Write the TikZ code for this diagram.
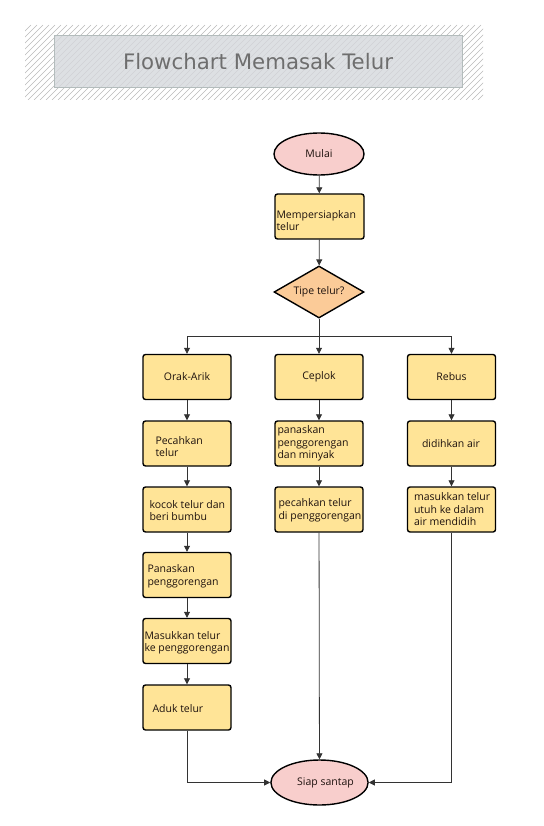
\documentclass[tikz,border=0pt]{standalone}
\usepackage{fontspec}
\setmainfont{Open Sans}
\newfontfamily\titlefont{DejaVu Sans}
\usetikzlibrary{arrows.meta,shapes.geometric}
\definecolor{boxfill}{HTML}{FFE497}
\definecolor{ellfill}{HTML}{F8CECC}
\definecolor{diafill}{HTML}{FBCB98}
\definecolor{titlefill}{HTML}{D5D8DC}
\definecolor{titleline}{HTML}{B3BCBC}
\definecolor{titletext}{HTML}{6E6E6E}
\definecolor{txtcol}{HTML}{1E120E}
\definecolor{lncol}{HTML}{333333}
\tikzset{
  box/.style={rectangle, rounded corners=2.5pt, draw=black, line width=1.4pt, fill=boxfill,
    minimum width=88pt, minimum height=45pt, inner sep=0pt, font=\fontsize{10.5}{12.5}\selectfont, text=txtcol},
  ell/.style={ellipse, draw=black, line width=1.4pt, fill=ellfill, minimum width=90pt,
    minimum height=42pt, inner sep=0pt, font=\fontsize{10.5}{12.5}\selectfont, text=txtcol},
  dia/.style={diamond, draw=black, line width=1.4pt, fill=diafill, minimum width=90pt,
    minimum height=52pt, inner sep=0pt, shape aspect=1.7, font=\fontsize{10.5}{12.5}\selectfont, text=txtcol},
  txt/.style={align=left, inner sep=0pt, font=\fontsize{10.5}{12.5}\selectfont, text=txtcol},
  ln/.style={draw=lncol, line width=0.8pt},
  arr/.style={ln, -{Triangle[length=6pt,width=6pt]}},
  hatch/.style={draw=gray!55, line width=0.5pt},
  titlebox/.style={rectangle, draw=titleline, line width=1pt, fill=titlefill, fill opacity=0.8,
    text opacity=1, minimum width=408pt, minimum height=52pt, text=titletext,
    font=\titlefont\fontsize{21.3}{24}\selectfont}
}
\begin{document}
\begin{tikzpicture}[x=1pt,y=-1pt]
\useasboundingbox (0,0) rectangle (543,826);
% title
\begin{scope}
  \clip (25,25) rectangle (483,100);
  \foreach \i in {0,...,95} {
    \draw[hatch] (-80+6*\i,100) -- (-5+6*\i,25);
  }
\end{scope}
\node[titlebox] (title) at (258,62) {Flowchart Memasak Telur};

% main column
\node[ell] (start) at (319,154) {Mulai};
\node[box, minimum width=89pt] (prep) at (319.5,216.5) {};
\node[txt, anchor=west] (preptxt) at ([xshift=2pt,yshift=-4pt]prep.west) {Mempersiapkan\\telur};
\node[dia] (type) at (319,292) {Tipe telur?};

\coordinate (split) at (319,336);
\coordinate (sl) at (187,336);
\coordinate (sr) at (451.5,336);

% left column
\node[box] (oa) at (187,377) {Orak-Arik};
\node[box] (oa1) at (187,443.5) {};
\node[txt, anchor=west] (oa1t) at ([xshift=13pt,yshift=-3pt]oa1.west) {Pecahkan\\telur};
\node[box] (oa2) at (187,509.5) {};
\node[txt, anchor=west] (oa2t) at ([xshift=7pt,yshift=-1pt]oa2.west) {kocok telur dan\\beri bumbu};
\node[box] (oa3) at (187,575) {};
\node[txt, anchor=west] (oa3t) at ([xshift=5pt,yshift=-1.5pt]oa3.west) {Panaskan\\penggorengan};
\node[box] (oa4) at (187,641) {};
\node[txt, anchor=west] (oa4t) at ([xshift=2pt,yshift=-2pt]oa4.west) {Masukkan telur\\ke penggorengan};
\node[box] (oa5) at (187,707.5) {};
\node[txt, anchor=west] (oa5t) at ([xshift=10pt,yshift=-1.5pt]oa5.west) {Aduk telur};

% middle column
\node[box] (cp) at (319,377) {Ceplok};
\node[box] (cp1) at (319,443.5) {};
\node[txt, anchor=west] (cp1t) at ([xshift=3pt,yshift=0pt]cp1.west) {panaskan\\penggorengan\\dan minyak};
\node[box] (cp2) at (319,509.5) {};
\node[txt, anchor=west] (cp2t) at ([xshift=4pt,yshift=-1pt]cp2.west) {pecahkan telur\\di penggorengan};

% right column
\node[box] (rb) at (451.5,377) {Rebus};
\node[box] (rb1) at (451.5,443.5) {};
\node[txt, anchor=west] (rb1t) at ([xshift=15pt,yshift=0pt]rb1.west) {didihkan air};
\node[box] (rb2) at (451.5,509.5) {};
\node[txt, anchor=west] (rb2t) at ([xshift=7pt,yshift=0pt]rb2.west) {masukkan telur\\utuh ke dalam\\air mendidih};

% end
\node[ell, minimum width=88pt, minimum height=45pt] (end) at (319.5,782.5) {\hspace*{12pt}Siap santap};

% connectors
\draw[arr] (start) -- (prep);
\draw[arr] (prep) -- (type);
\draw[ln] (type.south) -- (split);
\draw[ln] (sl) -- (sr);
\draw[arr] (sl) -- (oa);
\draw[arr] (split) -- (cp);
\draw[arr] (sr) -- (rb);
\draw[arr] (oa) -- (oa1);
\draw[arr] (oa1) -- (oa2);
\draw[arr] (oa2) -- (oa3);
\draw[arr] (oa3) -- (oa4);
\draw[arr] (oa4) -- (oa5);
\draw[arr] (cp) -- (cp1);
\draw[arr] (cp1) -- (cp2);
\draw[arr] (rb) -- (rb1);
\draw[arr] (rb1) -- (rb2);
\draw[arr] (oa5.south) |- (end.west);
\draw[arr] (cp2) -- (end);
\draw[arr] (rb2.south) |- (end.east);
\end{tikzpicture}
\end{document}
